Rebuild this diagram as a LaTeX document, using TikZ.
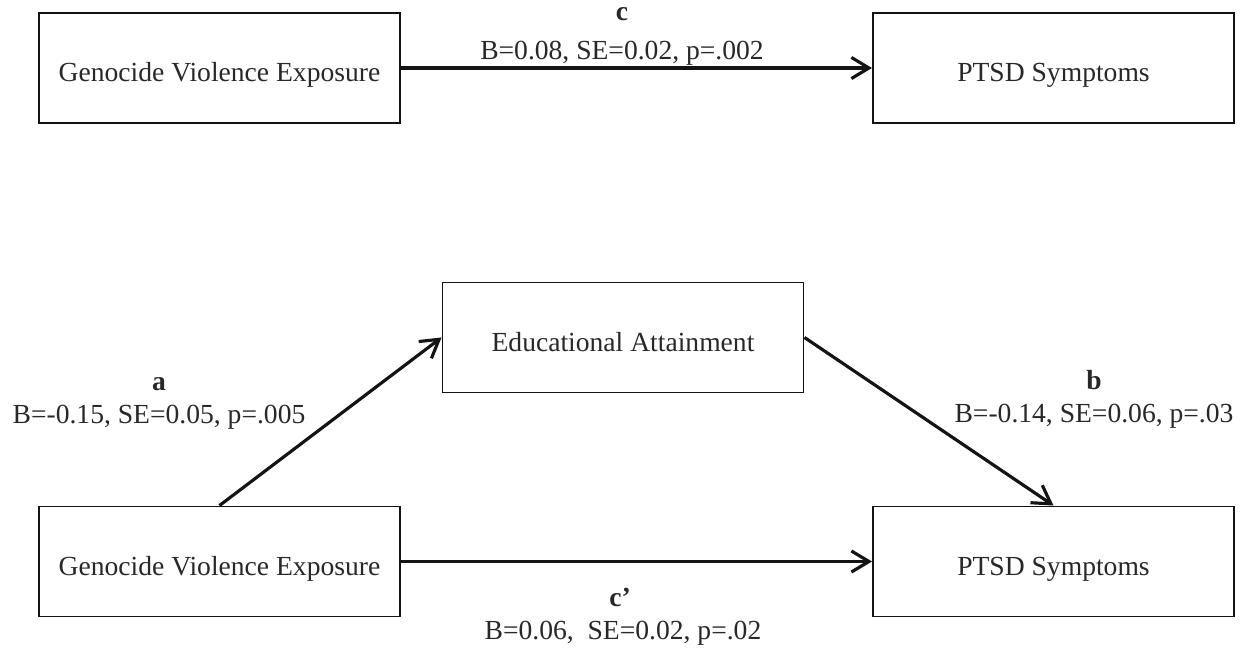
\documentclass[tikz,border=0pt]{standalone}
\usepackage{fontspec}
\setmainfont{Liberation Serif}
\usetikzlibrary{arrows.meta,positioning}
\definecolor{inkline}{RGB}{20,20,20}
\definecolor{inktext}{RGB}{40,40,40}
\tikzset{
  varbox/.style={draw=inkline,line width=1.1pt,minimum width=7.22cm,minimum height=2.2cm,
    inner sep=0pt,text height=0.56cm,text depth=0pt,text=inktext,font=\fontsize{15.7}{18}\selectfont},
  pathline/.style={draw=inkline,line width=1.8pt,-{Straight Barb[length=10pt,width=12pt,line width=1.8pt]}},
  coef/.style={anchor=base,inner sep=0pt,text=inktext,font=\fontsize{15.7}{18}\selectfont}
}
\begin{document}
\begin{tikzpicture}
\useasboundingbox (0,0) rectangle (25.02,13);
% total effect
\node[varbox] (gveA) at (4.39,11.64) {Genocide Violence Exposure};
\node[varbox] (ptsdA) at (21.07,11.64) {PTSD Symptoms};
\draw[pathline] (gveA) -- (ptsdA);
\node[coef] (labc) at (12.44,12.58) {\textbf{c}};
\node[coef] (coefc) at (12.44,11.8) {B=0.08, SE=0.02, p=.002};

% mediation model
\node[varbox] (edu) at (12.46,6.25) {Educational Attainment};
\node[varbox] (gveB) at (4.39,1.77) {Genocide Violence Exposure};
\node[varbox] (ptsdB) at (21.07,1.77) {PTSD Symptoms};
\draw[pathline] (gveB.north) -- (edu.west);
\draw[pathline] (edu.east) -- (ptsdB.north);
\draw[pathline] (gveB) -- (ptsdB);

\node[coef] (laba) at (3.18,5.18) {\textbf{a}};
\node[coef] (coefa) at (3.18,4.52) {B=-0.15, SE=0.05, p=.005};
\node[coef] (labb) at (21.88,5.2) {\textbf{b}};
\node[coef] (coefb) at (21.88,4.54) {B=-0.14, SE=0.06, p=.03};
\node[coef] (labcp) at (12.4,0.86) {\textbf{c’}};
\node[coef] (coefcp) at (12.46,0.2) {B=0.06,\ \ SE=0.02, p=.02};
\end{tikzpicture}
\end{document}
